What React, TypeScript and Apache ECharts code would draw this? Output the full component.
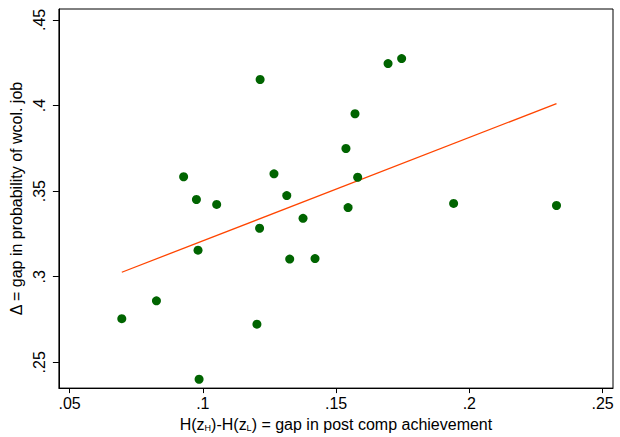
import React, { useEffect, useRef } from "react";
import * as echarts from "echarts";

// Gap in post comp achievement (x) vs gap in probability of wcol. job (y)
const gapAchievement = [
  0.0696, 0.0826, 0.0928, 0.0976, 0.0982, 0.0986, 0.1052, 0.1215, 0.1213, 0.1203,
  0.1267, 0.1315, 0.1326, 0.1376, 0.1421, 0.1537, 0.1545, 0.1571, 0.1581, 0.1695,
  0.1746, 0.1941, 0.2327,
];
const gapProbability = [
  0.2755, 0.2859, 0.3584, 0.3451, 0.3155, 0.2401, 0.3422, 0.4152, 0.3283, 0.2723,
  0.3601, 0.3474, 0.3103, 0.3341, 0.3106, 0.3749, 0.3404, 0.3952, 0.3581, 0.4245,
  0.4274, 0.3428, 0.3416,
];
// Fitted line endpoints
const fitX = [0.0696, 0.2327];
const fitY = [0.3026, 0.4011];

const xTicks = [0.05, 0.1, 0.15, 0.2, 0.25];
const yTicks = [0.25, 0.3, 0.35, 0.4, 0.45];

const FONT = "'Liberation Sans', Arial, sans-serif";
const fmt = (v: number) => String(Math.round(v * 1000) / 1000).replace(/^0/, "");

export default function App() {
  const ref = useRef<HTMLDivElement>(null);
  useEffect(() => {
    if (!ref.current) return;
    const chart = echarts.init(ref.current, undefined, { renderer: "svg" });
    chart.setOption({
      animation: false,
      backgroundColor: "#ffffff",
      grid: {
        left: 57,
        right: 7,
        top: 9,
        bottom: 46,
        show: true,
        borderColor: "#000",
        borderWidth: 1,
        backgroundColor: "#fff",
      },
      xAxis: {
        type: "value",
        min: 0.046,
        max: 0.2539,
        splitLine: { show: false },
        axisLine: { show: true, lineStyle: { color: "#000", width: 1 } },
        axisTick: { show: true, length: 5, customValues: xTicks, lineStyle: { color: "#000" } },
        axisLabel: {
          customValues: xTicks,
          formatter: (v: number) => fmt(v),
          fontSize: 16,
          fontFamily: FONT,
          color: "#000",
          margin: 7,
        },
        name: "H(z{s|H})-H(z{s|L}) = gap in post comp achievement",
        nameLocation: "middle",
        nameGap: 23,
        nameTextStyle: {
          fontSize: 16,
          fontFamily: FONT,
          color: "#000",
          lineHeight: 16,
          rich: {
            s: { fontSize: 9, lineHeight: 10, verticalAlign: "bottom", fontFamily: FONT, color: "#000" },
          },
        },
      },
      yAxis: {
        type: "value",
        min: 0.23493,
        max: 0.45638,
        splitLine: { show: false },
        axisLine: { show: true, lineStyle: { color: "#000", width: 1 } },
        axisTick: { show: true, length: 6, customValues: yTicks, lineStyle: { color: "#000" } },
        axisLabel: {
          customValues: yTicks,
          formatter: (v: number) => fmt(v),
          fontSize: 16,
          fontFamily: FONT,
          color: "#000",
          rotate: 90,
          margin: 11,
        },
        name: "Δ = gap in probability of wcol. job",
        nameLocation: "middle",
        nameRotate: 90,
        nameGap: 27,
        nameTextStyle: { fontSize: 16, fontFamily: FONT, color: "#000" },
      },
      series: [
        {
          type: "scatter",
          data: gapAchievement.map((x, i) => [x, gapProbability[i]]),
          symbol: "circle",
          symbolSize: 9,
          itemStyle: { color: "#006400", opacity: 1 },
          z: 3,
        },
        {
          type: "line",
          data: fitX.map((x, i) => [x, fitY[i]]),
          showSymbol: false,
          symbol: "none",
          lineStyle: { color: "#ff4500", width: 1.3 },
          z: 2,
        },
      ],
    });
    return () => chart.dispose();
  }, []);
  return (
    <div
      ref={ref}
      style={{ position: "fixed", left: 0, top: 0, width: 620, height: 437, background: "#fff" }}
    />
  );
}
